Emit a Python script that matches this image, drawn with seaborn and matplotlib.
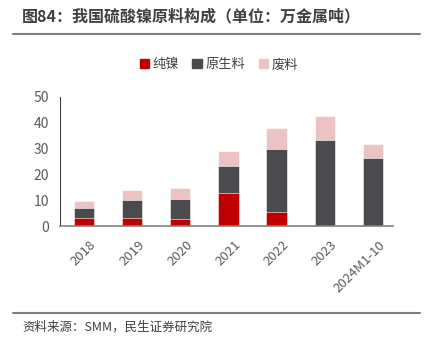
import pandas as pd
import seaborn as sns
import matplotlib.pyplot as plt
import matplotlib.transforms as mtransforms
from matplotlib.patches import Patch
from matplotlib.lines import Line2D

# 数据 (万金属吨)
years = ["2018", "2019", "2020", "2021", "2022", "2023", "2024M1-10"]
pure_nickel = [3.1, 3.2, 2.6, 12.7, 5.6, 0.2, 0.1]
primary = [3.9, 6.9, 8.0, 10.7, 24.4, 33.0, 26.1]
scrap = [2.6, 3.7, 4.0, 5.5, 7.9, 9.3, 5.5]

df = pd.DataFrame({"year": years, "纯镍": pure_nickel, "原生料": primary, "废料": scrap})
# cumulative heights so bars can be drawn back to front
df["c1"] = df["纯镍"]
df["c2"] = df["c1"] + df["原生料"]
df["c3"] = df["c2"] + df["废料"]

sns.set_style("white")
plt.rcParams["font.family"] = ["Noto Sans CJK SC", "DejaVu Sans"]

red, dark, pink = "#C00000", "#4B4B4D", "#EBC3C3"

fig = plt.figure(figsize=(4.25, 3.51), dpi=100)
ax = fig.add_axes([0.141, 0.356, 0.784, 0.368])

for col, c in [("c3", pink), ("c2", dark), ("c1", red)]:
    sns.barplot(data=df, x="year", y=col, color=c, width=0.42, ax=ax,
                saturation=1, edgecolor="white", linewidth=0.4)

ax.set_ylim(0, 50)
ax.set_xlim(-0.5, 6.42)
ax.set_yticks([0, 10, 20, 30, 40, 50])
ax.set_xlabel("")
ax.set_ylabel("")
ax.tick_params(axis="y", labelsize=10, colors="#595959", length=0, pad=8)
ax.tick_params(axis="x", labelsize=9.5, colors="#595959", length=0, pad=9)
# nudge the rotated labels a little to the right, like the original
shift = mtransforms.ScaledTranslation(4 / 72, 0, fig.dpi_scale_trans)
for lab in ax.get_xticklabels():
    lab.set_rotation(45)
    lab.set_ha("right")
    lab.set_rotation_mode("anchor")
    lab.set_transform(lab.get_transform() + shift)

sns.despine(ax=ax, top=True, right=True)
ax.spines["left"].set_color("#404040")
ax.spines["left"].set_linewidth(0.8)
ax.spines["bottom"].set_color("#808080")
ax.spines["bottom"].set_linewidth(1.2)

handles = [Patch(color=red, label="纯镍"), Patch(color=dark, label="原生料"),
           Patch(color=pink, label="废料")]
fig.legend(handles=handles, loc="center", bbox_to_anchor=(0.515, 0.815), ncol=3,
           frameon=False, fontsize=9.5, handlelength=0.7, handleheight=0.7,
           handletextpad=0.3, columnspacing=1.0, labelcolor="#404040")

fig.text(0.052, 0.952, "图84：我国硫酸镍原料构成（单位：万金属吨）", fontsize=11.5,
         fontweight="bold", color="#404040", va="center")
fig.add_artist(Line2D([0.03, 0.988], [0.903, 0.903], color="#7F7F7F", lw=1.5))
fig.add_artist(Line2D([0.03, 0.988], [0.108, 0.108], color="#7F7F7F", lw=1.5))
fig.text(0.052, 0.068, "资料来源：SMM，民生证券研究院", fontsize=9,
         color="#404040", va="center")

fig.savefig("out.png", dpi=100)
